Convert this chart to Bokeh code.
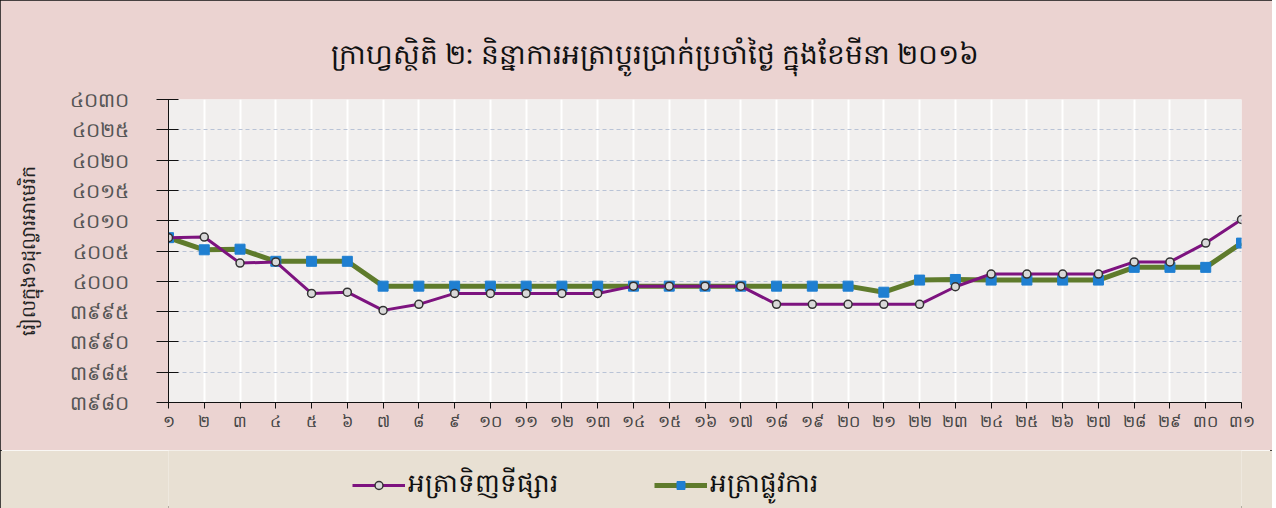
from bokeh.plotting import figure
from bokeh.layouts import column
from bokeh.models import Range1d, FixedTicker, Legend, LegendItem, ColumnDataSource, Title
from bokeh.embed import file_html
from bokeh.resources import INLINE

title_text = "ក្រាហ្វស្ថិតិ ២: និន្នាការអត្រាប្តូរប្រាក់ប្រចាំថ្ងៃ ក្នុងខែមីនា ២០១៦"
y_label = "រៀលក្នុង១ដុល្លារអាមេរិក"
series_names = ["អត្រាទិញទីផ្សារ", "អត្រាផ្លូវការ"]

days = list(range(1, 32))
day_labels = ["១", "២", "៣", "៤", "៥", "៦", "៧", "៨", "៩", "១០", "១១", "១២", "១៣", "១៤", "១៥", "១៦",
              "១៧", "១៨", "១៩", "២០", "២១", "២២", "២៣", "២៤", "២៥", "២៦", "២៧", "២៨", "២៩", "៣០", "៣១"]
market_rate = [4007.2, 4007.3, 4003, 4003.2, 3998, 3998.2, 3995.2, 3996.2, 3998, 3998, 3998, 3998, 3998,
               3999.2, 3999.2, 3999.2, 3999.2, 3996.2, 3996.2, 3996.2, 3996.2, 3996.2, 3999.1,
               4001.2, 4001.2, 4001.2, 4001.2, 4003.2, 4003.2, 4006.3, 4010.2]
official_rate = [4007.2, 4005.2, 4005.3, 4003.3, 4003.3, 4003.3, 3999.2, 3999.2, 3999.2, 3999.2, 3999.2,
                 3999.2, 3999.2, 3999.2, 3999.2, 3999.2, 3999.2, 3999.2, 3999.2, 3999.2, 3998.2,
                 4000.2, 4000.3, 4000.2, 4000.2, 4000.2, 4000.2, 4002.3, 4002.3, 4002.3, 4006.3]
y_ticks = [3980, 3985, 3990, 3995, 4000, 4005, 4010, 4015, 4020, 4025, 4030]
y_tick_labels = ["៣៩៨០", "៣៩៨៥", "៣៩៩០", "៣៩៩៥", "៤០០០", "៤០០៥", "៤០១០", "៤០១៥", "៤០២០", "៤០២៥", "៤០៣០"]

FONT = "Noto Sans"
MKT = dict(line_color="#7d137f", line_width=3)
MKT_M = dict(marker="circle", size=8, fill_color="#d9d9d9", line_color="#333", line_width=1.5)
OFF = dict(line_color="#5f7b2c", line_width=5)
OFF_M = dict(marker="square", size=10, fill_color="#1f7fd1", line_color="#1f7fd1")
LEGEND_BG = "#e8e0d3"

src = ColumnDataSource(dict(day=days, market=market_rate, official=official_rate))

p = figure(width=1272, height=450,
           x_range=Range1d(1, 31), y_range=Range1d(3980, 4030),
           output_backend="svg", toolbar_location=None,
           min_border_left=168, min_border_right=31, min_border_top=99, min_border_bottom=48)

p.border_fill_color = "#ebd3d1"
p.background_fill_color = "#f1efee"
p.outline_line_color = None

t = Title(text=title_text, align="left", offset=162, standoff=56,
          text_font=FONT, text_font_size="28px", text_font_style="normal", text_color="#111")
p.add_layout(t, "above")

# grids
p.xgrid.ticker = FixedTicker(ticks=days)
p.xgrid.grid_line_color = "white"
p.xgrid.grid_line_width = 2
p.ygrid.ticker = FixedTicker(ticks=y_ticks)
p.ygrid.grid_line_color = "#b9c3d6"
p.ygrid.grid_line_dash = "4 3"
p.ygrid.grid_line_width = 1

# axes
p.xaxis.ticker = FixedTicker(ticks=days)
p.xaxis.major_label_overrides = {d: l for d, l in zip(days, day_labels)}
p.xaxis.major_label_text_font = FONT
p.xaxis.major_label_text_font_size = "16px"
p.xaxis.major_label_text_color = "#444"
p.xaxis.major_tick_out = 6
p.xaxis.major_tick_in = 0
p.xaxis.minor_tick_line_color = None
p.xaxis.major_label_standoff = 1
p.xaxis.axis_line_color = "#111"
p.xaxis.major_tick_line_color = "#111"

p.yaxis.ticker = FixedTicker(ticks=y_ticks)
p.yaxis.major_label_overrides = {v: l for v, l in zip(y_ticks, y_tick_labels)}
p.yaxis.major_label_text_font = FONT
p.yaxis.major_label_text_font_size = "20px"
p.yaxis.major_label_text_color = "#555"
p.yaxis.major_tick_out = 12
p.yaxis.major_tick_in = 10
p.yaxis.minor_tick_line_color = None
p.yaxis.major_label_standoff = 28
p.yaxis.axis_line_color = "#111"
p.yaxis.major_tick_line_color = "#111"
p.yaxis.axis_label = y_label
p.yaxis.axis_label_text_font = FONT
p.yaxis.axis_label_text_font_size = "19px"
p.yaxis.axis_label_text_font_style = "normal"
p.yaxis.axis_label_text_color = "#222"
p.yaxis.axis_label_standoff = 26

# series
p.line("day", "official", source=src, **OFF)
p.scatter("day", "official", source=src, **OFF_M)
p.line("day", "market", source=src, **MKT)
p.scatter("day", "market", source=src, **MKT_M)

# legend strip (separate figure so the legend can sit freely below the chart)
p2 = figure(width=1272, height=58, x_range=Range1d(-10, -9), y_range=Range1d(0, 1),
            output_backend="svg", toolbar_location=None,
            x_axis_type=None, y_axis_type=None, min_border=0)
p2.grid.visible = False
p2.outline_line_color = None
p2.background_fill_color = LEGEND_BG
p2.border_fill_color = LEGEND_BG
lk_m = p2.line("day", "market", source=src, **MKT)
mk_m = p2.scatter("day", "market", source=src, **MKT_M)
lk_o = p2.line("day", "official", source=src, **OFF)
mk_o = p2.scatter("day", "official", source=src, **OFF_M)

legend = Legend(items=[LegendItem(label=series_names[0], renderers=[lk_m, mk_m]),
                       LegendItem(label=series_names[1], renderers=[lk_o, mk_o])],
                location=(184, 3), orientation="horizontal",
                background_fill_alpha=0, border_line_color=None,
                label_text_font=FONT, label_text_font_size="26px", label_text_color="#111",
                glyph_width=53, glyph_height=20, label_standoff=3, spacing=96,
                padding=0, margin=0)
p2.add_layout(legend, "center")

layout = column(p, p2, spacing=0)
layout.styles = {"outline": "2px solid #111", "outline-offset": "-2px"}

open("out.html", "w").write(file_html(layout, INLINE))
